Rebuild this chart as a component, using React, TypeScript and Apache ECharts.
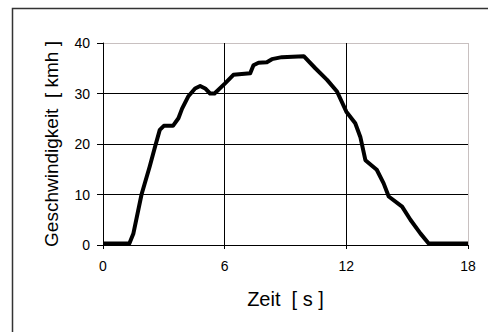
import React, { useEffect, useRef } from "react";
import * as echarts from "echarts";

const timeS: number[] = [0, 1.3, 1.5, 1.9, 2.3, 2.57, 2.8, 3.0, 3.45, 3.72, 3.9, 4.2, 4.54, 4.79, 5.04, 5.28, 5.5, 6.02, 6.43, 7.26, 7.42, 7.67, 8.08, 8.33, 8.82, 9.9, 10.47, 11.05, 11.54, 12.0, 12.44, 12.69, 12.94, 13.5, 13.84, 14.09, 14.75, 15.16, 15.65, 16.06, 18];
const speedKmh: number[] = [0.3, 0.3, 2.3, 10, 15.5, 19.5, 22.8, 23.6, 23.6, 25.1, 27, 29.4, 31, 31.5, 31, 30, 30, 32, 33.7, 34.0, 35.6, 36.1, 36.2, 36.8, 37.2, 37.4, 35, 32.7, 30.4, 26.4, 24.1, 21.4, 16.8, 14.9, 12.2, 9.6, 7.6, 5, 2.3, 0.3, 0.3];
const xTicks: number[] = [0, 6, 12, 18];
const yTicks: number[] = [0, 10, 20, 30, 40];
const xTitle = "Zeit  [ s ]";
const yTitle = "Geschwindigkeit  [ kmh ]";

const FONT = "Liberation Sans, Arial, sans-serif";

export default function App() {
  const ref = useRef<HTMLDivElement>(null);
  useEffect(() => {
    if (!ref.current) return;
    const chart = echarts.init(ref.current, undefined, { renderer: "svg" });
    const data = timeS.map((t, i) => [t, speedKmh[i]]);
    chart.setOption({
      animation: false,
      backgroundColor: "#ffffff",
      graphic: [
        {
          type: "rect",
          shape: { x: 12.5, y: 8.5, width: 520, height: 400 },
          style: { fill: "none", stroke: "#333333", lineWidth: 1.5 },
          z: 0,
        },
      ],
      grid: { left: 103, right: 20, top: 43, bottom: 87, containLabel: false },
      xAxis: {
        type: "value",
        min: xTicks[0],
        max: xTicks[xTicks.length - 1],
        interval: 6,
        name: xTitle,
        nameLocation: "middle",
        nameGap: 44,
        nameTextStyle: { fontFamily: FONT, fontSize: 20, color: "#000" },
        axisLine: { show: true, onZero: false, lineStyle: { color: "#000", width: 1 } },
        axisTick: { show: true, length: 4, lineStyle: { color: "#000" } },
        axisLabel: { fontFamily: FONT, fontSize: 14, color: "#000", margin: 14 },
        splitLine: {
          show: true,
          lineStyle: { color: ["#000", "#000", "#000", "#c8c0c0"], width: 1 },
        },
      },
      yAxis: {
        type: "value",
        min: yTicks[0],
        max: yTicks[yTicks.length - 1],
        interval: 10,
        name: yTitle,
        nameLocation: "middle",
        nameGap: 42,
        nameRotate: 90,
        nameTextStyle: { fontFamily: FONT, fontSize: 19, color: "#000" },
        axisLine: { show: true, lineStyle: { color: "#000", width: 1 } },
        axisTick: { show: true, length: 6, lineStyle: { color: "#000" } },
        axisLabel: { fontFamily: FONT, fontSize: 14, color: "#000", margin: 13 },
        splitLine: {
          show: true,
          lineStyle: { color: ["#000", "#000", "#000", "#000", "#c8c0c0"], width: 1 },
        },
      },
      series: [
        {
          type: "line",
          data,
          showSymbol: false,
          symbol: "none",
          lineStyle: { color: "#000", width: 4, join: "round" },
          z: 3,
        },
      ],
    });
    return () => chart.dispose();
  }, []);
  return (
    <div
      ref={ref}
      style={{ position: "absolute", left: 0, top: 0, width: 488, height: 332 }}
    />
  );
}
